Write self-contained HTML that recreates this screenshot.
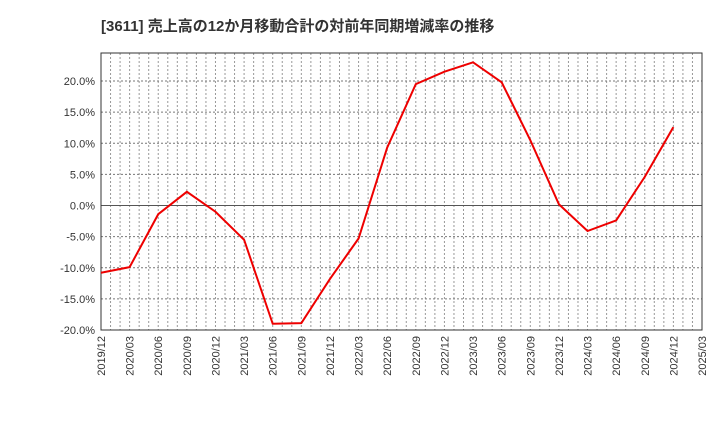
<!DOCTYPE html>
<html><head><meta charset="utf-8"><style>
body{margin:0;background:#fff;}
svg text{font-family:"Liberation Sans","Noto Sans CJK JP",sans-serif;}
</style></head><body>
<svg width="720" height="440" xmlns="http://www.w3.org/2000/svg">
<text x="101" y="31" font-size="15" font-weight="bold" fill="#333">[3611]  売上高の12か月移動合計の対前年同期増減率の推移</text>
<g id="grid"></g>
<g id="yt"></g>
<g id="xt"></g>
<rect x="101" y="53" width="601" height="277" fill="none" stroke="#333" stroke-width="1"/>
<polyline id="line" fill="none" stroke="#e00" stroke-width="2"/>
</svg>
<script>
const xLabels=["2019/12","2020/03","2020/06","2020/09","2020/12","2021/03","2021/06","2021/09","2021/12","2022/03","2022/06","2022/09","2022/12","2023/03","2023/06","2023/09","2023/12","2024/03","2024/06","2024/09","2024/12","2025/03"];
const values=[-10.8,-9.9,-1.4,2.2,-1.0,-5.5,-19.0,-18.9,-11.8,-5.3,9.3,19.5,21.5,23.0,19.8,10.5,0.2,-4.1,-2.4,4.6,12.6];
const yTicks=[20,15,10,5,0,-5,-10,-15,-20];
const L=101,R=702,T=53,B=330;
const step=(R-L)/(xLabels.length-1);
const xs=i=>L+i*step;
const ys=v=>205.5-v*(124.5/20);
const ns="http://www.w3.org/2000/svg";
const grid=document.getElementById('grid'),yt=document.getElementById('yt'),xt=document.getElementById('xt');
function mk(t,a,p){const e=document.createElementNS(ns,t);for(const k in a)e.setAttribute(k,a[k]);p.appendChild(e);return e;}
for(let m=1;m<(xLabels.length-1)*3;m++){const x=L+m*step/3;
const l=mk('line',{x1:x,x2:x,y1:T,y2:B,stroke:'#999','stroke-dasharray':'2,2','stroke-width':1},grid);

}
yTicks.forEach(v=>{const y=ys(v);
const l=mk('line',{x1:L,x2:R,y1:y,y2:y,stroke:v===0?'#555':'#777','stroke-dasharray':v===0?'':'2,2','stroke-width':1},grid);


const t=mk('text',{x:L-6,y:y+4,'text-anchor':'end','font-size':11,fill:'#333'},yt);t.textContent=v.toFixed(1)+'%';

});
xLabels.forEach((s,i)=>{const x=xs(i);
const t=mk('text',{x:0,y:0,'text-anchor':'end','font-size':11,fill:'#333',transform:`translate(${x+4},${B+6}) rotate(-90)`},xt);t.textContent=s;

});
document.getElementById('line').setAttribute('points',values.map((v,i)=>xs(i)+','+ys(v)).join(' '));
</script>
</body></html>
